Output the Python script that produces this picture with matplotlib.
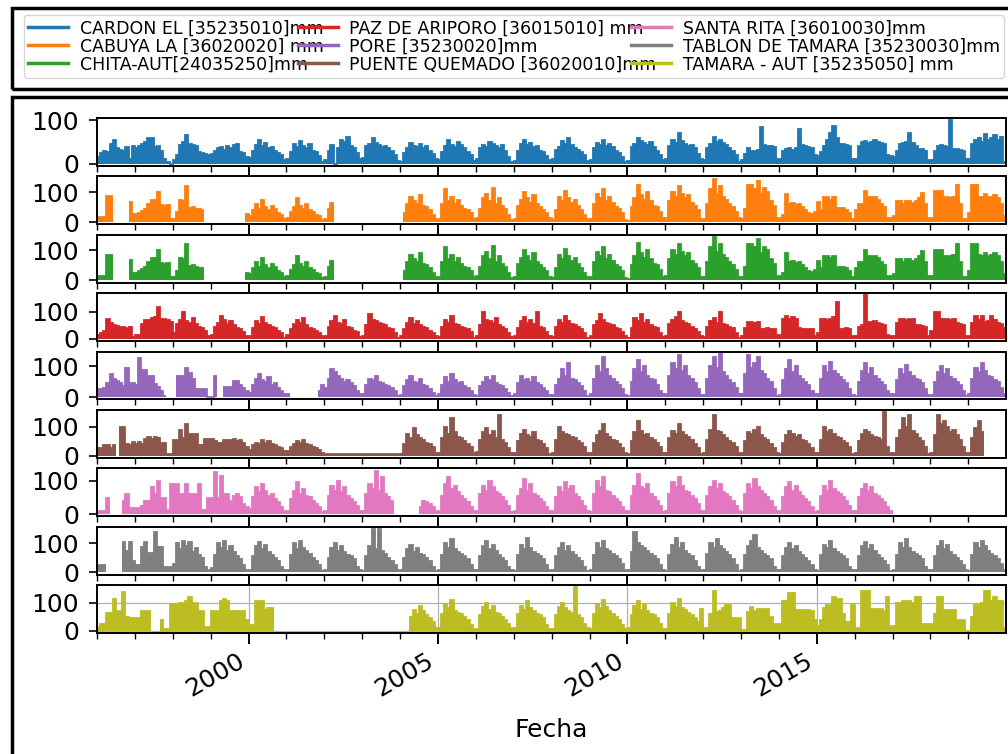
import numpy as np
import matplotlib
matplotlib.use("Agg")
import matplotlib.pyplot as plt
import matplotlib.dates as mdates
from matplotlib.patches import Rectangle
from matplotlib.lines import Line2D
import datetime as dt

N = None
first_year = 1996
last_year = 2019

labels = [
    "CARDON EL [35235010]mm",
    "CABUYA LA [36020020] mm",
    "CHITA-AUT[24035250]mm",
    "PAZ DE ARIPORO [36015010] mm",
    "PORE [35230020]mm",
    "PUENTE QUEMADO [36020010]mm",
    "SANTA RITA [36010030]mm",
    "TABLON DE TAMARA [35230030]mm",
    "TAMARA - AUT [35235050] mm",
]
colors = ["#1f77b4", "#ff7f0e", "#2ca02c", "#d62728", "#9467bd",
          "#8c564b", "#e377c2", "#7f7f7f", "#bcbd22"]

# monthly precipitation (mm), one row per year 1996..2019, None = no data
cardon_el = [
    [15, 25, 30, 28, 45, 55, 35, 32, 30, 38, 10, 40],
    [35, 40, 45, 50, 58, 60, 38, 40, 30, 10, 3, 0],
    [8, 20, 42, 50, 65, 45, 42, 40, 28, 25, 22, 20],
    [22, 30, 35, 38, 32, 40, 36, 42, 45, 28, 25, 15],
    [12, 30, 42, 55, 40, 48, 35, 38, 30, 25, 20, 8],
    [10, 28, 45, 38, 52, 40, 35, 45, 30, 28, 18, 5],
    [8, 30, 42, 0, 35, 55, 50, 62, 40, 35, 25, 10],
    [12, 40, 45, 60, 48, 42, 38, 40, 35, 30, 20, 6],
    [4, 25, 35, 48, 40, 38, 45, 36, 40, 30, 22, 10],
    [8, 28, 40, 55, 42, 38, 50, 42, 35, 28, 20, 6],
    [10, 35, 42, 38, 50, 45, 40, 35, 42, 30, 15, 5],
    [6, 30, 45, 55, 42, 48, 38, 40, 30, 26, 18, 8],
    [10, 32, 38, 52, 45, 58, 42, 36, 32, 28, 20, 6],
    [8, 35, 48, 42, 55, 40, 45, 38, 30, 25, 15, 5],
    [6, 38, 45, 60, 52, 48, 42, 50, 38, 30, 20, 8],
    [10, 40, 55, 48, 70, 52, 45, 40, 42, 35, 22, 10],
    [8, 35, 45, 62, 50, 55, 48, 42, 36, 30, 20, 5],
    [8, 22, 35, 30, 30, 32, 85, 42, 40, 40, 38, 11],
    [10, 30, 34, 36, 32, 35, 79, 42, 40, 38, 35, 19],
    [18, 28, 40, 55, 70, 86, 60, 45, 45, 42, 40, 11],
    [10, 40, 50, 52, 48, 50, 55, 50, 48, 45, 19, 18],
    [15, 30, 45, 48, 50, 71, 48, 40, 34, 34, 30, 8],
    [8, 30, 40, 42, 40, 38, 100, 34, 34, 32, 30, 11],
    [11, 45, 55, 60, 50, 68, 55, 60, 65, 55, 62, 5],
]
cabuya_la = [
    [16, 16, 16, 86, 86, N, N, N, N, N, 68, 26],
    [26, 30, 37, 45, 60, 74, 74, 100, 58, 55, 58, 10],
    [10, 32, 74, 70, 121, 47, 50, 45, 42, 40, N, N],
    [N, N, N, N, N, N, N, N, N, N, N, 26],
    [20, 40, 60, 45, 75, 50, 40, 55, 45, 30, 25, 10],
    [15, 35, 50, 80, 55, 45, 60, 40, 35, 25, 20, 8],
    [10, 45, 65, N, N, N, N, N, N, N, N, N],
    [N, N, N, N, N, N, N, N, N, N, N, N],
    [N, 30, 60, 85, 70, 60, 90, 55, 50, 40, 25, 10],
    [10, 60, 110, 70, 85, 60, 75, 55, 45, 40, 30, 10],
    [15, 45, 80, 95, 70, 115, 60, 80, 55, 45, 25, 8],
    [10, 55, 75, 100, 80, 65, 90, 60, 50, 40, 30, 12],
    [8, 40, 85, 70, 105, 80, 65, 75, 55, 40, 25, 10],
    [10, 60, 95, 80, 110, 70, 85, 65, 50, 45, 30, 8],
    [5, 50, 80, 125, 90, 75, 100, 70, 55, 50, 35, 12],
    [15, 70, 100, 85, 120, 95, 80, 90, 65, 55, 40, 10],
    [10, 60, 110, 145, 95, 120, 85, 75, 60, 50, 35, 12],
    [10, 45, 122, 122, 110, 138, 92, 112, 100, 70, 55, 15],
    [15, 25, 92, 61, 65, 58, 60, 50, 40, 30, 28, 35],
    [66, 40, 82, 82, 75, 82, 46, 46, 46, 40, 30, 10],
    [40, 61, 61, 102, 82, 82, 82, 75, 60, 50, 15, 15],
    [20, 71, 71, 60, 71, 71, 65, 70, 80, 97, 60, 15],
    [15, 102, 102, 102, 82, 82, 80, 85, 122, 60, 10, 10],
    [30, 122, 122, 85, 82, 92, 82, 85, 90, 80, 60, 20],
]
chita_aut = [
    [16, 16, 16, 86, 86, N, N, N, N, N, 68, 26],
    [26, 30, 37, 45, 60, 74, 74, 100, 58, 55, 58, 10],
    [10, 32, 74, 70, 121, 47, 50, 45, 42, 40, N, N],
    [N, N, N, N, N, N, N, N, N, N, N, 26],
    [20, 40, 60, 45, 75, 50, 40, 55, 45, 30, 25, 10],
    [15, 35, 50, 80, 55, 45, 60, 40, 35, 25, 20, 8],
    [10, 45, 65, N, N, N, N, N, N, N, N, N],
    [N, N, N, N, N, N, N, N, N, N, N, N],
    [N, 30, 60, 85, 70, 60, 90, 55, 50, 40, 25, 10],
    [10, 60, 110, 70, 85, 60, 75, 55, 45, 40, 30, 10],
    [15, 45, 80, 95, 70, 115, 60, 80, 55, 45, 25, 8],
    [10, 55, 75, 100, 80, 65, 90, 60, 50, 40, 30, 12],
    [8, 40, 85, 70, 105, 80, 65, 75, 55, 40, 25, 10],
    [10, 60, 95, 80, 110, 70, 85, 65, 50, 45, 30, 8],
    [5, 50, 80, 125, 90, 75, 100, 70, 55, 50, 35, 12],
    [15, 70, 100, 85, 120, 95, 80, 90, 65, 55, 40, 10],
    [10, 60, 110, 145, 95, 120, 85, 75, 60, 50, 35, 12],
    [10, 45, 122, 122, 110, 138, 92, 112, 100, 70, 55, 15],
    [15, 25, 92, 61, 65, 58, 60, 50, 40, 30, 28, 35],
    [66, 40, 82, 82, 75, 82, 46, 46, 46, 40, 30, 10],
    [40, 61, 61, 102, 82, 82, 82, 75, 60, 50, 15, 15],
    [20, 71, 71, 60, 71, 71, 65, 70, 80, 97, 60, 15],
    [15, 102, 102, 102, 82, 82, 80, 85, 122, 60, 10, 10],
    [30, 122, 122, 85, 82, 92, 82, 85, 90, 80, 60, 20],
]
paz_de_ariporo = [
    [15, 20, 30, 74, 60, 50, 48, 45, 42, 40, 44, 8],
    [14, 14, 55, 68, 70, 75, 80, 119, 74, 74, 70, 62],
    [20, 55, 70, 100, 65, 60, 75, 55, 45, 40, 30, 10],
    [15, 45, 60, 85, 70, 55, 65, 50, 40, 35, 25, 10],
    [10, 40, 65, 55, 80, 60, 50, 45, 40, 30, 20, 5],
    [15, 35, 55, 70, 60, 75, 50, 40, 35, 30, 20, 10],
    [10, 45, 65, 85, 60, 55, 70, 45, 40, 30, 25, 8],
    [12, 50, 90, 70, 65, 60, 55, 50, 40, 35, 20, 5],
    [10, 35, 60, 75, 55, 65, 50, 45, 40, 30, 20, 10],
    [8, 45, 70, 60, 85, 55, 50, 45, 40, 35, 25, 5],
    [10, 50, 100, 70, 65, 60, 75, 50, 45, 35, 20, 8],
    [12, 40, 65, 80, 60, 70, 55, 100, 45, 40, 25, 10],
    [8, 45, 70, 60, 85, 65, 55, 50, 45, 35, 20, 5],
    [10, 50, 65, 90, 70, 60, 55, 50, 40, 35, 25, 10],
    [5, 40, 75, 65, 90, 60, 70, 50, 45, 40, 20, 8],
    [10, 55, 70, 80, 100, 65, 60, 55, 45, 35, 25, 10],
    [8, 45, 65, 75, 60, 100, 55, 50, 45, 40, 20, 5],
    [10, 40, 63, 63, 60, 63, 38, 38, 40, 38, 35, 13],
    [13, 74, 85, 74, 80, 74, 40, 38, 38, 36, 35, 10],
    [20, 74, 74, 70, 74, 80, 134, 38, 38, 40, 36, 10],
    [10, 45, 50, 160, 63, 63, 65, 60, 55, 50, 15, 10],
    [12, 60, 74, 74, 70, 74, 72, 50, 50, 48, 45, 10],
    [30, 98, 98, 74, 74, 74, 70, 74, 60, 55, 50, 10],
    [10, 60, 85, 70, 85, 63, 65, 85, 70, 60, 55, 40],
]
pore = [
    [26, 26, 30, 47, 74, 58, 53, 47, 37, 95, 47, 47],
    [40, 126, 89, 89, 68, 68, 42, 32, 20, 5, N, N],
    [N, 68, 68, 68, 95, 79, 58, 26, 26, 26, 26, 0],
    [0, 68, N, N, 32, 32, 32, 53, 53, 40, 30, 20],
    [15, 40, 60, 75, 55, 50, 65, 40, 45, 30, 20, 10],
    [10, N, N, N, N, N, N, N, N, N, 20, 40],
    [30, 60, 90, 80, 70, 60, 50, 55, 45, 35, 20, 10],
    [10, 40, 60, 55, 70, 50, 45, 40, 35, 30, 20, 5],
    [8, 35, 55, 70, 50, 45, 60, 40, 35, 25, 15, 5],
    [10, 40, 65, 50, 75, 55, 45, 50, 35, 30, 20, 8],
    [5, 35, 50, 65, 55, 70, 45, 40, 35, 25, 15, 5],
    [10, 45, 70, 55, 60, 50, 65, 45, 40, 30, 20, 8],
    [8, 40, 60, 90, 70, 110, 60, 55, 45, 35, 20, 5],
    [10, 60, 100, 80, 130, 90, 70, 60, 50, 40, 25, 8],
    [5, 50, 90, 120, 80, 100, 70, 60, 55, 40, 20, 10],
    [10, 70, 110, 90, 135, 85, 100, 70, 60, 45, 25, 8],
    [8, 60, 100, 130, 95, 140, 80, 70, 55, 45, 30, 10],
    [10, 75, 135, 95, 110, 130, 85, 75, 60, 50, 25, 5],
    [8, 55, 90, 120, 80, 100, 70, 60, 50, 40, 20, 10],
    [10, 60, 100, 80, 115, 85, 75, 65, 55, 45, 25, 8],
    [5, 50, 85, 110, 75, 95, 70, 60, 50, 40, 20, 10],
    [10, 55, 90, 75, 105, 80, 70, 60, 55, 45, 25, 8],
    [8, 50, 80, 100, 75, 90, 65, 60, 50, 40, 20, 5],
    [10, 60, 95, 80, 110, 85, 70, 65, 55, 50, 30, 10],
]
puente_quemado = [
    [26, 26, 37, 37, 26, 37, N, 100, 100, 40, 37, 47],
    [40, 47, 40, 58, 63, 58, 63, 60, 42, 42, 5, 5],
    [53, 53, 89, 60, 110, 74, 74, 74, 37, 37, 58, 58],
    [58, 50, 42, 42, 53, 53, 55, 58, 50, 53, 45, 30],
    [20, 35, 45, 40, 55, 45, 50, 40, 35, 30, 25, 15],
    [15, 30, 40, 50, 45, 55, 40, 35, 30, 28, 20, 10],
    [6, 5, 5, 4, 5, 6, 5, 5, 4, 5, 5, 6],
    [5, 5, 6, 5, 4, 5, 5, 6, 5, 5, 4, 5],
    [5, 40, 75, 60, 95, 70, 60, 55, 45, 40, 30, 10],
    [10, 60, 100, 75, 130, 80, 65, 60, 50, 40, 30, 8],
    [12, 55, 80, 95, 70, 85, 60, 140, 55, 45, 25, 10],
    [8, 50, 75, 90, 70, 65, 80, 55, 50, 40, 25, 5],
    [10, 55, 100, 80, 75, 70, 65, 60, 50, 45, 30, 8],
    [8, 45, 70, 85, 110, 75, 65, 55, 50, 40, 25, 10],
    [5, 50, 80, 120, 85, 70, 75, 60, 55, 45, 30, 8],
    [10, 60, 85, 75, 110, 80, 70, 65, 55, 40, 25, 5],
    [8, 55, 90, 140, 85, 80, 70, 60, 50, 45, 30, 10],
    [10, 50, 80, 75, 90, 100, 70, 60, 55, 40, 25, 8],
    [5, 45, 70, 85, 75, 65, 70, 55, 50, 40, 25, 10],
    [8, 55, 100, 80, 90, 75, 65, 60, 50, 45, 30, 5],
    [10, 50, 75, 90, 80, 70, 65, 60, 55, 150, 30, 10],
    [8, 60, 90, 130, 100, 140, 85, 75, 60, 50, 30, 5],
    [10, 70, 140, 110, 120, 100, 80, 90, 70, 55, 30, 8],
    [10, 60, 95, 120, 80, N, N, N, N, N, N, N],
]
santa_rita = [
    [8, 8, 8, 49, N, N, N, N, 39, 59, 18, 18],
    [18, 18, 25, 39, 39, 80, 59, 100, 49, 49, 13, 90],
    [90, 90, 59, 59, 90, 59, 59, 60, 90, 13, 13, 49],
    [49, 125, 49, 115, 59, 59, 40, 55, 60, 50, 30, 20],
    [15, 50, 80, 65, 90, 70, 55, 60, 45, 35, 20, 10],
    [10, 45, 70, 95, 60, 75, 55, 50, 40, 30, 20, 5],
    [10, 55, 85, 70, 100, 65, 80, 55, 45, 35, 25, 10],
    [8, 60, 90, 75, 130, 70, 110, 60, 50, 40, N, N],
    [N, N, N, N, N, N, 20, 40, 35, 30, 20, 10],
    [10, 55, 90, 110, 75, 85, 65, 55, 45, 35, 20, 8],
    [10, 60, 85, 70, 100, 80, 65, 60, 50, 40, 25, 5],
    [8, 55, 75, 105, 70, 90, 60, 55, 45, 35, 20, 10],
    [10, 50, 80, 65, 95, 75, 85, 60, 50, 40, 25, 8],
    [5, 60, 100, 80, 110, 70, 65, 55, 45, 35, 20, 10],
    [10, 55, 85, 120, 80, 75, 90, 60, 50, 40, 25, 5],
    [8, 60, 95, 80, 110, 85, 70, 65, 55, 45, 30, 10],
    [10, 55, 80, 100, 75, 90, 65, 60, 50, 40, 25, 8],
    [5, 60, 90, 75, 105, 80, 70, 60, 50, 40, 20, 10],
    [10, 50, 80, 95, 70, 85, 65, 55, 45, 35, 20, 5],
    [8, 55, 85, 70, 100, 75, 65, 60, 50, 40, 25, 10],
    [10, 50, 75, 90, 70, 80, 60, 55, 45, 35, 20, 8],
    [N, N, N, N, N, N, N, N, N, N, N, N],
    [N, N, N, N, N, N, N, N, N, N, N, N],
    [N, N, N, N, N, N, N, N, N, N, N, N],
]
tablon_de_tamara = [
    [26, 26, 26, N, N, N, N, N, 104, 74, 104, 38],
    [26, 26, 86, 104, 68, 68, 139, 86, 86, 20, 20, 20],
    [30, 100, 80, 110, 90, 105, 70, 85, 60, 50, 20, 10],
    [15, 60, 100, 85, 110, 75, 90, 70, 55, 45, 25, 8],
    [10, 55, 90, 105, 80, 95, 70, 60, 50, 40, 20, 10],
    [8, 60, 100, 80, 110, 85, 75, 65, 50, 40, 25, 5],
    [10, 50, 85, 100, 75, 90, 70, 60, 55, 45, 20, 10],
    [5, 55, 90, 150, 80, 150, 75, 65, 50, 40, 25, 8],
    [10, 50, 80, 95, 70, 85, 65, 60, 50, 40, 20, 5],
    [8, 60, 100, 85, 115, 80, 70, 65, 55, 45, 25, 10],
    [10, 55, 90, 110, 80, 95, 75, 60, 50, 40, 20, 8],
    [5, 60, 95, 80, 120, 85, 70, 65, 55, 45, 25, 10],
    [10, 55, 85, 100, 75, 90, 70, 60, 50, 40, 20, 5],
    [8, 60, 100, 85, 110, 80, 75, 65, 55, 45, 30, 10],
    [10, 70, 140, 100, 90, 85, 75, 65, 55, 45, 25, 8],
    [5, 60, 95, 120, 85, 100, 75, 65, 55, 40, 20, 10],
    [10, 65, 100, 85, 115, 90, 80, 70, 60, 45, 25, 5],
    [8, 60, 90, 110, 130, 85, 75, 65, 55, 45, 20, 10],
    [10, 55, 85, 100, 80, 90, 70, 60, 50, 40, 25, 8],
    [5, 60, 95, 85, 110, 80, 70, 65, 55, 45, 20, 10],
    [10, 55, 90, 105, 80, 95, 75, 60, 50, 40, 25, 5],
    [8, 60, 100, 85, 115, 85, 70, 65, 55, 45, 20, 10],
    [10, 55, 90, 110, 80, 95, 70, 60, 50, 40, 25, 8],
    [5, 60, 100, 85, 110, 90, 75, 65, 55, 45, 30, 10],
]
tamara_aut = [
    [12, 25, 25, 62, 62, 112, 69, 69, 137, 50, 44, 44],
    [44, 44, 69, 69, 69, N, N, N, 37, 6, 6, 94],
    [94, 94, 100, 100, 105, 121, 100, 100, 69, 69, 12, 12],
    [69, 69, 69, 106, 112, 106, 69, 69, 69, 69, 69, 40],
    [19, 19, 106, 106, 106, 75, 81, 81, N, N, N, N],
    [N, N, N, N, N, N, N, N, N, N, N, N],
    [N, N, N, N, N, N, N, N, N, N, N, N],
    [N, N, N, N, N, N, N, N, N, N, N, N],
    [N, N, N, 50, 75, 60, 90, 70, 55, 45, 30, 10],
    [10, 60, 95, 80, 110, 70, 65, 60, 50, 40, 20, 8],
    [5, 55, 85, 100, 75, 90, 65, 60, 50, 40, 25, 10],
    [10, 60, 90, 75, 105, 80, 70, 60, 55, 45, 20, 5],
    [8, 55, 85, 100, 80, 70, 65, 155, 55, 45, 25, 10],
    [5, 60, 95, 80, 110, 85, 70, 60, 50, 40, 20, 8],
    [10, 55, 90, 105, 75, 95, 70, 60, 55, 45, 25, 5],
    [8, 60, 100, 85, 115, 80, 75, 65, 55, 45, 30, 79],
    [11, 11, 60, 141, 66, 70, 80, 93, 93, 45, 45, 45],
    [4, 4, 66, 86, 70, 79, 79, 79, 79, 50, 25, 25],
    [25, 107, 107, 134, 134, 73, 73, 73, 73, 73, 70, 38],
    [18, 40, 80, 93, 93, 120, 114, 114, 60, 32, 32, 93],
    [11, 11, 141, 141, 141, 79, 79, 79, 79, 70, 120, 18],
    [18, 100, 100, 107, 107, 107, 100, 120, 120, 25, 25, 25],
    [25, 60, 120, 120, 73, 73, 73, 73, 38, 38, 38, 0],
    [0, 50, 93, 93, 100, 141, 141, 107, 120, 107, 107, 10],
]

series = [cardon_el, cabuya_la, chita_aut, paz_de_ariporo, pore,
          puente_quemado, santa_rita, tablon_de_tamara, tamara_aut]

# month edges
edges_dates = [dt.datetime(first_year + m // 12, m % 12 + 1, 1)
               for m in range((last_year - first_year + 1) * 12 + 1)]
edges = mdates.date2num(edges_dates)

W, H = 1008, 754
fig = plt.figure(figsize=(W / 100, H / 100), dpi=100)
fig.patch.set_facecolor("white")

left, right = 97 / W, 1006 / W
top, bottom = 1 - 118 / H, 1 - 633 / H
axes = fig.subplots(len(series), 1, sharex=True,
                    gridspec_kw=dict(left=left, right=right, top=top,
                                     bottom=bottom, hspace=0.22))

FS = 18
handles = []
for ax, data, col, lab in zip(axes, series, colors, labels):
    vals = np.array([[np.nan if v is None else v for v in row] for row in data],
                    dtype=float).ravel()
    ax.stairs(vals, edges, fill=True, color=col, lw=0, baseline=0)
    ax.stairs(vals, edges, fill=False, color=col, lw=1.3, baseline=None)
    ax.set_yticks([0, 100])
    ax.tick_params(axis="y", labelsize=FS, length=6, width=1.2, pad=7)
    ax.tick_params(axis="x", which="major", length=8, width=1.4)
    ax.tick_params(axis="x", which="minor", length=4, width=1.0)
    for s in ax.spines.values():
        s.set_linewidth(1.4)
    vmax = np.nanmax(vals)
    ax.set_ylim(-0.05 * vmax, 1.05 * vmax)
    handles.append(Line2D([], [], color=col, lw=2.5, label=lab))

axes[-1].set_xlim(edges[0], edges[-1] - 1)
axes[-1].xaxis_date()
axes[-1].xaxis.set_major_locator(mdates.YearLocator(5))
axes[-1].xaxis.set_minor_locator(mdates.YearLocator(1))
axes[-1].xaxis.set_major_formatter(mdates.DateFormatter("%Y"))
for ax in axes[:-1]:
    ax.tick_params(axis="x", which="both", labelbottom=False)
for lbl in axes[-1].get_xticklabels():
    lbl.set_rotation(30)
    lbl.set_ha("right")
    lbl.set_fontsize(FS)
axes[-1].grid(True, which="major", color="#b0b0b0", lw=0.9)
axes[-1].set_axisbelow(True)
axes[-1].set_xlabel("Fecha", fontsize=FS, labelpad=12)

leg = fig.legend(handles=handles, ncol=3, loc="upper left",
                 bbox_to_anchor=(23.5 / W, 1 - 15 / H), borderaxespad=0,
                 fontsize=12.5, labelspacing=0.0, handlelength=2.3,
                 handletextpad=0.69, columnspacing=-1.5, borderpad=0.25,
                 frameon=True, fancybox=True)
leg.get_frame().set_edgecolor("#cccccc")

# outer frames
fig.add_artist(Rectangle((12 / W, 1 - 89 / H), 1.2, 81 / H, transform=fig.transFigure,
                         fill=False, ec="black", lw=2.5))
fig.add_artist(Rectangle((12 / W, -0.1), 1.2, 1 - 97 / H + 0.1, transform=fig.transFigure,
                         fill=False, ec="black", lw=2.5))

fig.savefig("out.png", dpi=100, facecolor="white")
